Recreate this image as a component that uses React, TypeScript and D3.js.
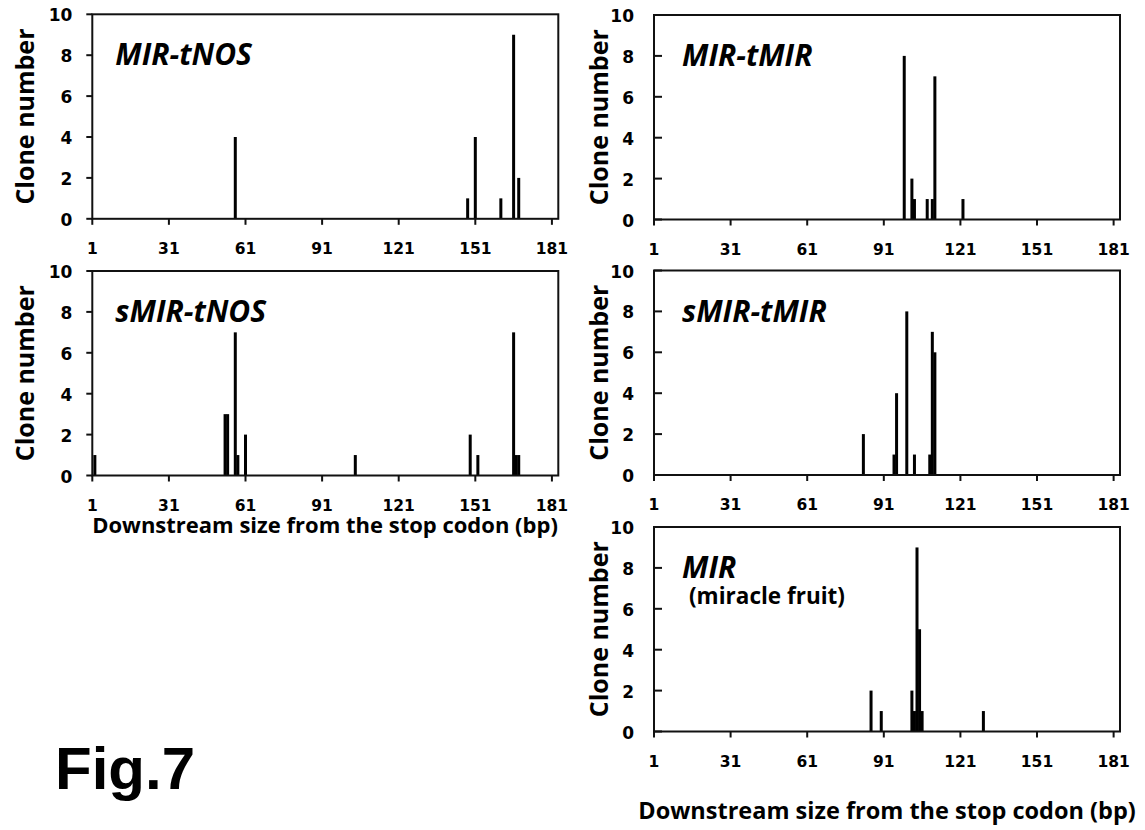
import React from 'react';
import {scaleLinear} from 'd3';

const width = 1145;
const height = 830;

// downstream size (bp) and clone counts
const mirTnosSize = [57, 148, 151, 161, 166, 168];
const mirTnosCount = [4, 1, 4, 1, 9, 2];

const mirTmirSize = [99, 102, 103, 108, 110, 111, 122];
const mirTmirCount = [8, 2, 1, 1, 1, 7, 1];

const smirTnosSize = [2, 53, 54, 57, 58, 61, 104, 149, 152, 166, 167, 168];
const smirTnosCount = [1, 3, 3, 7, 1, 2, 1, 2, 1, 7, 1, 1];

const smirTmirSize = [83, 95, 96, 100, 103, 109, 110, 111];
const smirTmirCount = [2, 1, 4, 8, 1, 1, 7, 6];

const mirSize = [86, 90, 102, 103, 104, 105, 106, 130];
const mirCount = [2, 1, 2, 1, 9, 5, 1, 1];

const xTicks = [1, 31, 61, 91, 121, 151, 181];
const yTicks = [0, 2, 4, 6, 8, 10];

const font = '"Open Sans", sans-serif';
const numFont = '"DejaVu Sans", sans-serif';

const panels = [
  {name: 'MIR-tNOS', sizes: mirTnosSize, counts: mirTnosCount, left: 92.3, top: 14.3, side: 'left'},
  {name: 'MIR-tMIR', sizes: mirTmirSize, counts: mirTmirCount, left: 654, top: 15, side: 'right'},
  {name: 'sMIR-tNOS', sizes: smirTnosSize, counts: smirTnosCount, left: 92.3, top: 271, side: 'left'},
  {name: 'sMIR-tMIR', sizes: smirTmirSize, counts: smirTmirCount, left: 654, top: 270.5, side: 'right'},
  {name: 'MIR', sub: '(miracle fruit)', sizes: mirSize, counts: mirCount, left: 654, top: 527, side: 'right'},
];

const pw = 466;
const ph = 204.5;

const Panel = ({p}) => {
  const x = scaleLinear().domain([1, 183.5]).range([p.left, p.left + pw]);
  const y = scaleLinear().domain([0, 10]).range([p.top + ph, p.top]);
  const inward = p.side === 'right';
  const titleX = p.side === 'left' ? p.left - 68 : p.left - 56;
  return (
    <g>
      {p.sizes.map((s, i) => (
        <rect key={i} x={x(s) - 1.5} y={y(p.counts[i])} width={3}
              height={y(0) - y(p.counts[i])} fill="#000"/>
      ))}
      <rect x={p.left} y={p.top} width={pw} height={ph} fill="none" stroke="#111" strokeWidth={2}/>
      {yTicks.map(t => (
        <g key={t}>
          <line x1={inward ? p.left : p.left - 6} x2={inward ? p.left + 8 : p.left}
                y1={y(t)} y2={y(t)} stroke="#111" strokeWidth={2}/>
          <text x={p.left - 20} y={y(t) + 1} textAnchor="end" dominantBaseline="central"
                fontFamily={numFont} fontWeight="bold" fontSize={17}>{t}</text>
        </g>
      ))}
      {xTicks.map(t => (
        <g key={t}>
          <line x1={x(t)} x2={x(t)} y1={y(0)} y2={y(0) + 6} stroke="#111" strokeWidth={2}/>
          <text x={x(t)} y={y(0) + 30} textAnchor="middle" dominantBaseline="central"
                fontFamily={numFont} fontWeight="bold" fontSize={15.5}>{t}</text>
        </g>
      ))}
      <text transform={`translate(${titleX},${p.top + ph / 2}) rotate(-90)`} textAnchor="middle"
            dominantBaseline="central" fontFamily={font} fontWeight="bold" fontSize={25}>Clone number</text>
      <text x={p.left + (inward ? 28 : 23)} y={p.top + 51} fontFamily={font} fontWeight="bold"
            fontStyle="italic" fontSize={30}>{p.name}</text>
      {p.sub && <text x={p.left + 35} y={p.top + 77} fontFamily={font} fontWeight="bold"
                      fontSize={22.5}>{p.sub}</text>}
    </g>
  );
};

export default function App() {
  return (
    <svg width={width} height={height} style={{position: 'absolute', left: 0, top: 0, background: '#fff'}}>
      {panels.map(p => <Panel key={p.name} p={p}/>)}
      <text x={325} y={533} textAnchor="middle" fontFamily={font} fontWeight="bold" fontSize={22}>
        Downstream size from the stop codon (bp)
      </text>
      <text x={887} y={819} textAnchor="middle" fontFamily={font} fontWeight="bold" fontSize={23.5}>
        Downstream size from the stop codon (bp)
      </text>
      <text x={55} y={789} fontFamily='"Liberation Sans", Arial, sans-serif' fontWeight="bold" fontSize={60}>Fig.7</text>
    </svg>
  );
}
